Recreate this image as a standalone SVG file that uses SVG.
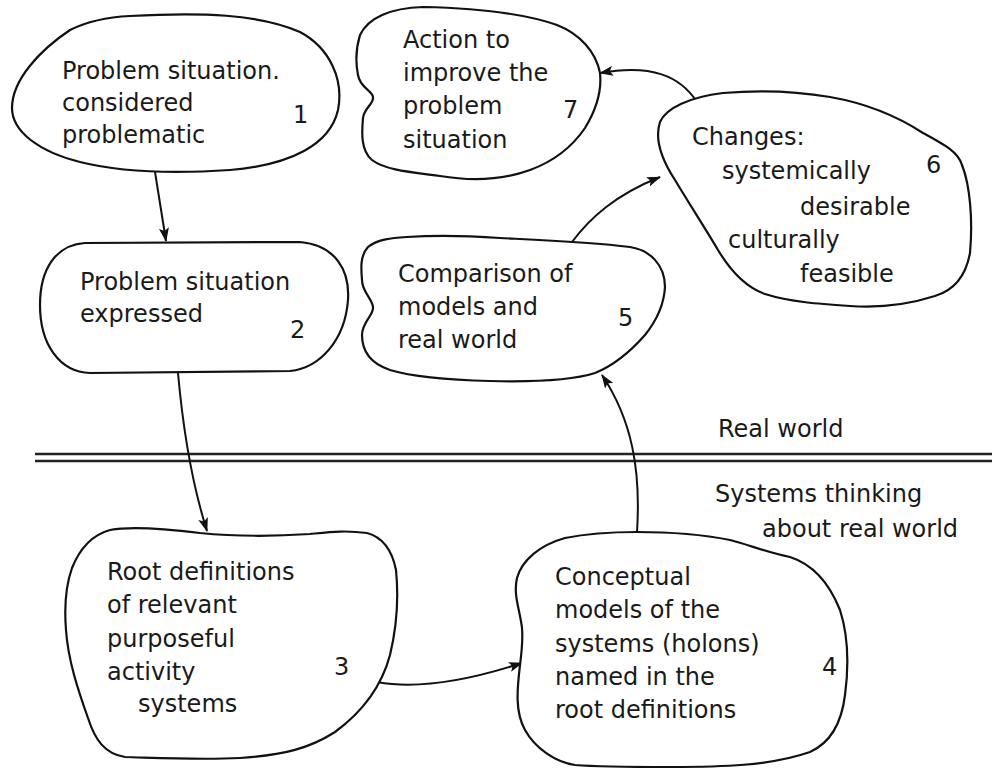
<svg xmlns="http://www.w3.org/2000/svg" width="992" height="769" viewBox="0 0 992 769">
<style>
.n{fill:#fff;stroke:#111;stroke-width:2.2;stroke-linejoin:round}
.t{font-family:"DejaVu Sans","Liberation Sans",sans-serif;font-size:24px;fill:#1a1a1a}
.c{fill:none;stroke:#111;stroke-width:2}
.sep{stroke:#222;stroke-width:2.5}
</style>
<defs>
<marker id="ah" viewBox="0 0 14 10" refX="13" refY="5" markerWidth="14" markerHeight="10" markerUnits="userSpaceOnUse" orient="auto">
<path d="M0,0 L14,5 L0,10 L3,5 Z" fill="#111"/>
</marker>
</defs>
<rect width="992" height="769" fill="#fff"/>
<g id="separator">
<line class="sep" x1="35" y1="454" x2="992" y2="454"/>
<line class="sep" x1="35" y1="461" x2="992" y2="461"/>
</g>
<g id="connectors">
<path class="c" d="M155,172 L166,241" marker-end="url(#ah)"/>
<path class="c" d="M178,373 C184,440 194,490 207,531" marker-end="url(#ah)"/>
<path class="c" d="M377,682 C420,690 470,680 522,663" marker-end="url(#ah)"/>
<path class="c" d="M637,532 C641,470 632,420 602,375" marker-end="url(#ah)"/>
<path class="c" d="M572,242 C590,218 615,195 660,177" marker-end="url(#ah)"/>
<path class="c" d="M697,102 C680,76 652,64 600,73" marker-end="url(#ah)"/>
</g>
<g id="node1">
<path class="n" d="M130,16 C200,12 260,14 300,32 C330,48 344,80 338,110 C330,145 290,165 230,170 C170,174 120,172 80,162 C40,152 12,132 12,108 C12,80 40,50 70,30 C90,20 110,17 130,16 Z"/>
<text class="t" x="62" y="79">Problem situation.</text>
<text class="t" x="62" y="111">considered</text>
<text class="t" x="62" y="143">problematic</text>
<text class="t" x="293" y="123">1</text>
</g>
<g id="node2">
<path class="n" d="M85,243 L300,242 C335,245 350,270 348,300 C345,340 320,368 290,371 L90,373 C60,372 40,345 40,305 C40,270 55,245 85,243 Z"/>
<text class="t" x="80" y="290">Problem situation</text>
<text class="t" x="80" y="322">expressed</text>
<text class="t" x="290" y="338">2</text>
</g>
<g id="node7">
<path class="n" d="M423,7 C470,8 520,12 557,25 C580,34 596,52 600,73 C602,92 596,110 585,128 C570,150 552,162 530,170 C500,181 470,181 440,176 C410,172 385,170 372,160 C360,150 362,130 363,118 C364,108 374,104 373,97 C372,90 360,88 358,75 C355,60 356,48 360,35 C368,18 390,8 423,7 Z"/>
<text class="t" x="403" y="48">Action to</text>
<text class="t" x="403" y="81">improve the</text>
<text class="t" x="403" y="114">problem</text>
<text class="t" x="403" y="148">situation</text>
<text class="t" x="563" y="118">7</text>
</g>
<g id="node6">
<path class="n" d="M723,93 C760,90 800,92 830,97 C870,104 900,118 923,133 C945,145 958,152 962,165 C970,185 973,220 970,253 C966,275 955,290 935,296 C910,304 880,308 850,306 C820,304 790,302 765,294 C745,287 730,270 718,250 C705,228 690,205 675,180 C662,160 654,140 660,122 C666,108 690,97 723,93 Z"/>
<text class="t" x="692" y="145">Changes:</text>
<text class="t" x="722" y="179">systemically</text>
<text class="t" x="800" y="215">desirable</text>
<text class="t" x="728" y="248">culturally</text>
<text class="t" x="800" y="282">feasible</text>
<text class="t" x="926" y="173">6</text>
</g>
<g id="node5">
<path class="n" d="M407,237 C440,235 470,236 500,238 C540,240 590,242 630,247 C650,250 665,265 665,287 C664,305 657,320 645,335 C630,352 615,365 595,373 C570,381 530,382 490,381 C450,380 410,376 390,370 C372,364 362,352 362,335 C362,322 374,315 373,307 C372,298 362,292 362,280 C361,268 360,256 368,247 C378,239 392,238 407,237 Z"/>
<text class="t" x="398" y="282">Comparison of</text>
<text class="t" x="398" y="315">models and</text>
<text class="t" x="398" y="348">real world</text>
<text class="t" x="618" y="326">5</text>
</g>
<g id="node3">
<path class="n" d="M110,530 C130,526 160,528 200,533 C240,537 280,536 310,534 C330,532 345,530 367,533 C382,537 392,550 396,570 C399,600 396,630 390,655 C382,685 365,710 335,732 C310,748 285,755 240,758 C200,760 160,758 125,757 C105,754 95,740 88,718 C78,690 68,660 66,630 C64,605 66,585 72,568 C80,548 92,535 110,530 Z"/>
<text class="t" x="107" y="580">Root definitions</text>
<text class="t" x="107" y="613">of relevant</text>
<text class="t" x="107" y="647">purposeful</text>
<text class="t" x="107" y="680">activity</text>
<text class="t" x="138" y="712">systems</text>
<text class="t" x="334" y="675">3</text>
</g>
<g id="node4">
<path class="n" d="M637,532 C670,532 700,534 730,540 C750,545 765,552 790,557 C815,565 830,585 840,610 C848,635 849,665 845,695 C842,720 832,742 810,752 C770,766 720,767 670,767 C630,767 600,767 575,765 C555,762 535,748 525,730 C515,712 517,690 520,665 C522,650 523,640 522,628 C520,610 513,595 517,578 C522,560 540,545 565,538 C590,533 612,532 637,532 Z"/>
<text class="t" x="555" y="585">Conceptual</text>
<text class="t" x="555" y="618">models of the</text>
<text class="t" x="555" y="652">systems (holons)</text>
<text class="t" x="555" y="685">named in the</text>
<text class="t" x="555" y="718">root definitions</text>
<text class="t" x="822" y="675">4</text>
</g>
<g id="labels">
<text class="t" x="718" y="437">Real world</text>
<text class="t" x="715" y="502">Systems thinking</text>
<text class="t" x="762" y="537">about real world</text>
</g>
</svg>
